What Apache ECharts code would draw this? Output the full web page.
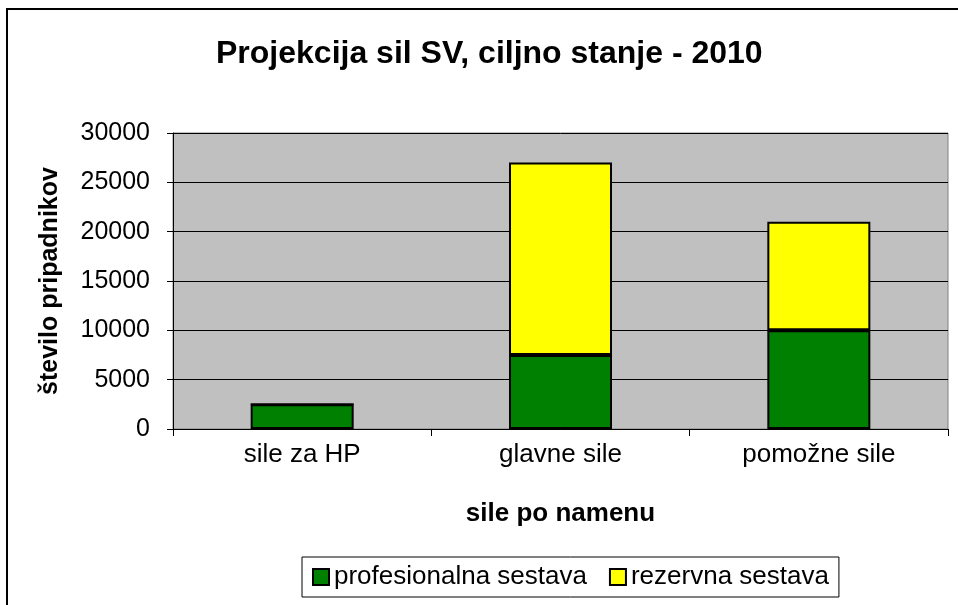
<!DOCTYPE html>
<html>
<head>
<meta charset="utf-8">
<script src="https://cdn.jsdelivr.net/npm/echarts@6/dist/echarts.min.js"></script>
<style>
  html, body { margin: 0; padding: 0; background: #fff; }
  #chart { width: 958px; height: 605px; }
</style>
</head>
<body>
<div id="chart"></div>
<script>
var categories = ['sile za HP', 'glavne sile', 'pomožne sile'];
var professional = [2500, 7500, 10000];
var reserve = [0, 19500, 11000];
var seriesNames = ['profesionalna sestava', 'rezervna sestava'];
var yTicks = [0, 5000, 10000, 15000, 20000, 25000, 30000];

var chart = echarts.init(document.getElementById('chart'));
var font = 'Liberation Sans, Arial, sans-serif';

var option = {
	animation: false,
	color: ['#008000', '#FFFF00'],
	textStyle: { fontFamily: font, color: '#000' },
	title: {
		text: 'Projekcija sil SV, ciljno stanje - 2010',
		left: 216,
		top: 38,
		padding: 0,
		textStyle: { fontFamily: font, fontSize: 32, fontWeight: 'bold', color: '#000' }
	},
	graphic: [{
		type: 'rect',
		shape: { x: 7, y: 9, width: 1000, height: 700 },
		style: { fill: 'none', stroke: '#000', lineWidth: 2 },
		silent: true
	}],
	grid: {
		left: 173,
		right: 10,
		top: 133,
		bottom: 176,
		show: true,
		backgroundColor: '#C0C0C0',
		borderColor: '#808080',
		borderWidth: 1
	},
	legend: {
		data: seriesNames,
		left: 302,
		top: 557,
		padding: [7, 10],
		itemGap: 22,
		itemWidth: 16,
		itemHeight: 16,
		icon: 'rect',
		borderColor: '#000',
		borderWidth: 1,
		textStyle: { fontFamily: font, fontSize: 26, color: '#000' }
	},
	xAxis: {
		type: 'category',
		data: categories,
		name: 'sile po namenu',
		nameLocation: 'middle',
		nameGap: 72,
		nameTextStyle: { fontFamily: font, fontSize: 26, fontWeight: 'bold', color: '#000' },
		axisLine: { lineStyle: { color: '#000', width: 1 } },
		axisTick: { show: true, length: 7, lineStyle: { color: '#000' } },
		axisLabel: { margin: 13, fontFamily: font, fontSize: 26, color: '#000' }
	},
	yAxis: {
		type: 'value',
		min: yTicks[0],
		max: yTicks[yTicks.length - 1],
		interval: yTicks[1] - yTicks[0],
		name: 'število pripadnikov',
		nameLocation: 'middle',
		nameGap: 110,
		nameTextStyle: { fontFamily: font, fontSize: 25, fontWeight: 'bold', color: '#000' },
		axisLine: { show: true, lineStyle: { color: '#000', width: 1 } },
		axisTick: { show: true, length: 6, lineStyle: { color: '#000' } },
		axisLabel: {
			margin: 23,
			fontFamily: font,
			fontSize: 25,
			color: '#000',
			formatter: function (v) { return String(v); }
		},
		splitLine: { show: true, lineStyle: { color: '#000', width: 1 } }
	},
	series: [
		{
			name: seriesNames[0],
			type: 'bar',
			stack: 'total',
			barWidth: 103,
			data: professional,
			itemStyle: { borderColor: '#000', borderWidth: 2 }
		},
		{
			name: seriesNames[1],
			type: 'bar',
			stack: 'total',
			barWidth: 103,
			data: reserve,
			itemStyle: { borderColor: '#000', borderWidth: 2 }
		}
	]
};
chart.setOption(option);
</script>
</body>
</html>
